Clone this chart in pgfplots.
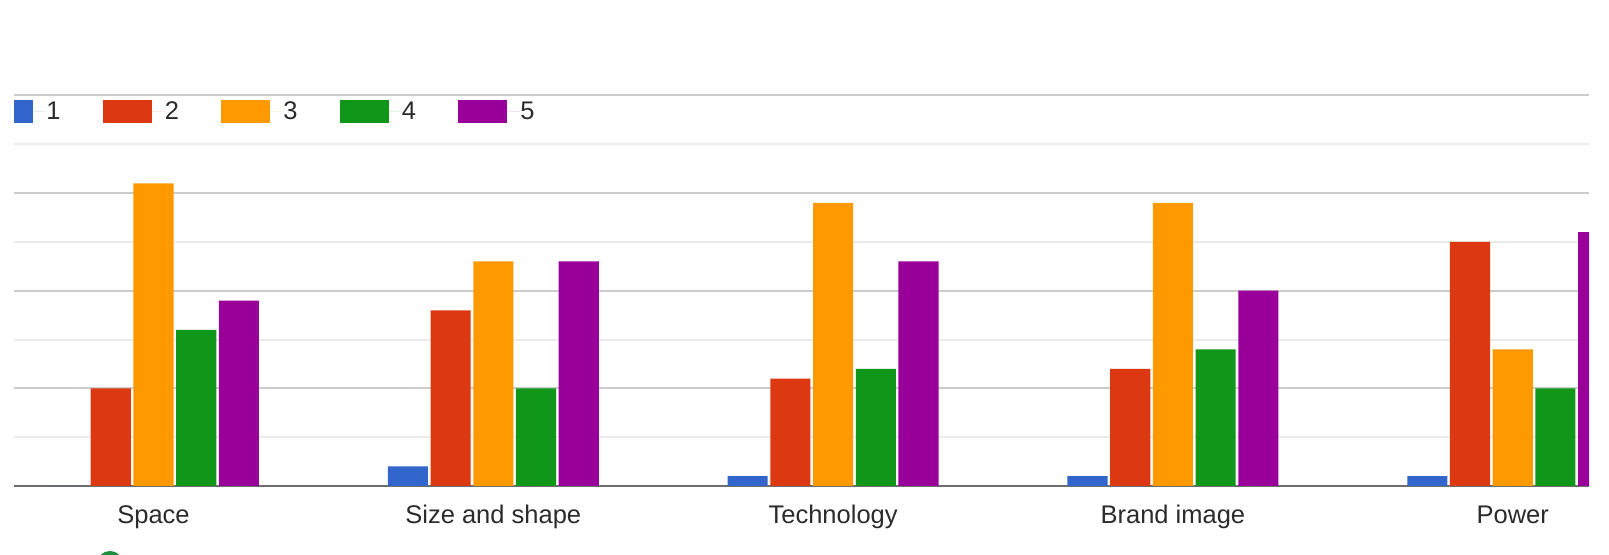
\documentclass[border=0pt]{standalone}
\usepackage{fontspec}
\setmainfont{Liberation Sans}
\usepackage{pgfplots}
\usepackage{pgfplotstable}
\pgfplotsset{compat=1.18}

\definecolor{rateA}{HTML}{3366CC}
\definecolor{rateB}{HTML}{DC3912}
\definecolor{rateC}{HTML}{FF9900}
\definecolor{rateD}{HTML}{109618}
\definecolor{rateE}{HTML}{990099}
\definecolor{gridmajor}{HTML}{CCCCCC}
\definecolor{gridminor}{HTML}{EBEBEB}
\definecolor{baseline}{HTML}{6E6E6E}
\definecolor{labeltext}{HTML}{2B2B2B}
\definecolor{icongreen}{HTML}{1E8E3E}

% number of answers per rating (1-5) for each aspect
\pgfplotstableread{
x s1 s2 s3 s4 s5
0 0 10 31 16 19
1 2 18 23 10 23
2 1 11 29 12 23
3 1 12 29 14 20
4 1 25 14 10 26
}\ratings

\newcommand{\chartfont}{\fontsize{12.75}{15}\selectfont}

\begin{document}
\begin{tikzpicture}[x=1pt,y=1pt]
\path[use as bounding box] (0,0) rectangle (804.5,277.5);
\begin{axis}[
  at={(7pt,34.5pt)}, anchor=south west,
  scale only axis, width=787.5pt, height=195.25pt,
  xmin=-0.4105, xmax=4.2245, ymin=0, ymax=40,
  axis line style={draw=none},
  ybar, bar width=0.118,
  xtick={0,1,2,3,4},
  xticklabels={Space,Size and shape,Technology,Brand image,Power},
  xticklabel style={anchor=base, yshift=-18.6pt, font=\chartfont, text=labeltext},
  major tick length=0pt, minor tick length=0pt,
  ytick={10,20,30,40}, yticklabels={},
  minor ytick={5,15,25,35},
  ymajorgrids, yminorgrids,
  major grid style={draw=gridmajor, line width=1pt},
  minor grid style={draw=gridminor, line width=1pt},
  extra y ticks={0}, extra y tick labels={},
  extra y tick style={grid=major, major grid style={draw=baseline, line width=1.4pt}},
  legend columns=5,
  legend style={draw=none, fill=none, inner sep=0pt, column sep=0pt,
    at={(rel axis cs:-0.019,0.958)}, anchor=west,
    nodes={inner sep=0pt, text width=28.25pt, align=left, font=\chartfont, text=labeltext}},
  keybox/.style={legend image code/.code={
    \fill[##1] (0pt,-5.75pt) rectangle (24.5pt,5.75pt);
    \path (0pt,0pt) -- (31pt,0pt);}},
]
\addplot[fill=rateA, draw=none, bar shift=-0.2514, keybox] table[x=x,y=s1]{\ratings};
\addplot[fill=rateB, draw=none, bar shift=-0.1257, keybox] table[x=x,y=s2]{\ratings};
\addplot[fill=rateC, draw=none, bar shift=0, keybox] table[x=x,y=s3]{\ratings};
\addplot[fill=rateD, draw=none, bar shift=0.1257, keybox] table[x=x,y=s4]{\ratings};
\addplot[fill=rateE, draw=none, bar shift=0.2514, keybox] table[x=x,y=s5]{\ratings};
\legend{1,2,3,4,5}
\end{axis}
% the chart area is scrolled: nothing shows left of its edge
\fill[white] (-1,-1) rectangle (7,278.5);
% top of the next question's icon
\draw[icongreen, line width=2pt] (55,-4.5) circle (5.5);
\end{tikzpicture}
\end{document}
